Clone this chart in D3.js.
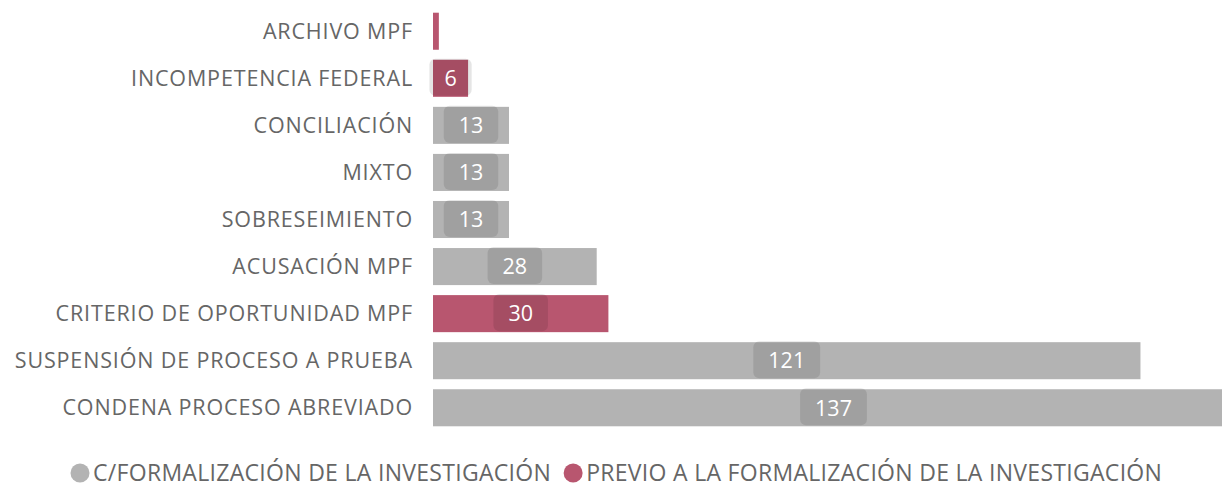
<!DOCTYPE html>
<html>
<head>
<meta charset="utf-8">
<script src="https://cdn.jsdelivr.net/npm/d3@7"></script>
<style>
  body { margin: 0; background: #fff; }
  svg text { font-family: "Open Sans", "Noto Sans", sans-serif; }
</style>
</head>
<body>
<div id="chart"></div>
<script>
// categories top to bottom
var categories = ["ARCHIVO MPF", "INCOMPETENCIA FEDERAL", "CONCILIACIÓN", "MIXTO", "SOBRESEIMIENTO",
    "ACUSACIÓN MPF", "CRITERIO DE OPORTUNIDAD MPF", "SUSPENSIÓN DE PROCESO A PRUEBA", "CONDENA PROCESO ABREVIADO"];
var values = [1, 6, 13, 13, 13, 28, 30, 121, 137];
// 0 = C/FORMALIZACIÓN, 1 = PREVIO A LA FORMALIZACIÓN
var seriesIdx = [1, 1, 0, 0, 0, 0, 1, 0, 0];
var seriesNames = ["C/FORMALIZACIÓN DE LA INVESTIGACIÓN", "PREVIO A LA FORMALIZACIÓN DE LA INVESTIGACIÓN"];
var seriesColors = ["#b3b3b3", "#b8566f"];

var width = 1222, height = 486;

var svg = d3.select("#chart").append("svg")
    .attr("width", width)
    .attr("height", height);

var x = d3.scaleLinear().domain([0, 137]).range([433, 1234]);
var y = d3.scaleBand().domain(categories).range([8, 431]).paddingInner(0.213).paddingOuter(0.1);

// category labels
svg.append("g")
    .selectAll("text")
    .data(categories)
    .join("text")
    .attr("x", 413)
    .attr("y", d => y(d) + y.bandwidth() / 2)
    .attr("dy", "0.35em")
    .attr("text-anchor", "end")
    .attr("font-size", 21.5)
    .attr("letter-spacing", 0.85)
    .attr("fill", "#666")
    .text(d => d);

var rows = categories.map((c, i) => ({ cat: c, value: values[i], s: seriesIdx[i] }));

svg.append("g")
    .selectAll("rect")
    .data(rows)
    .join("rect")
    .attr("x", x(0))
    .attr("y", d => y(d.cat))
    .attr("width", d => x(d.value) - x(0))
    .attr("height", y.bandwidth())
    .attr("fill", d => seriesColors[d.s]);

// value badges
var labels = svg.append("g")
    .selectAll("g")
    .data(rows.filter(d => d.value > 1))
    .join("g")
    .attr("transform", d => `translate(${(x(0) + x(d.value)) / 2},${y(d.cat) + y.bandwidth() / 2})`);

labels.append("text")
    .attr("text-anchor", "middle")
    .attr("dy", "0.36em")
    .attr("font-size", 21.5)
    .attr("fill", "#fff")
    .text(d => d.value)
    .each(function(d) { d.tw = this.getComputedTextLength(); });

labels.insert("rect", "text")
    .attr("x", d => -d.tw / 2 - 15)
    .attr("y", -y.bandwidth() / 2 - 1)
    .attr("width", d => d.tw + 30)
    .attr("height", y.bandwidth())
    .attr("rx", 6)
    .attr("fill", "#000")
    .attr("fill-opacity", 0.1);

// legend
var legend = svg.append("g").attr("transform", "translate(0,473)");
var lx = 80;
seriesNames.forEach(function(name, i) {
    legend.append("circle")
        .attr("cx", lx)
        .attr("cy", 0)
        .attr("r", 9.5)
        .attr("fill", seriesColors[i]);
    var t = legend.append("text")
        .attr("x", lx + 13)
        .attr("y", 8)
        .attr("font-size", 23)
        .attr("letter-spacing", 0.3)
        .attr("fill", "#666")
        .text(name);
    lx += 13 + t.node().getComputedTextLength() + 22;
});
</script>
</body>
</html>
